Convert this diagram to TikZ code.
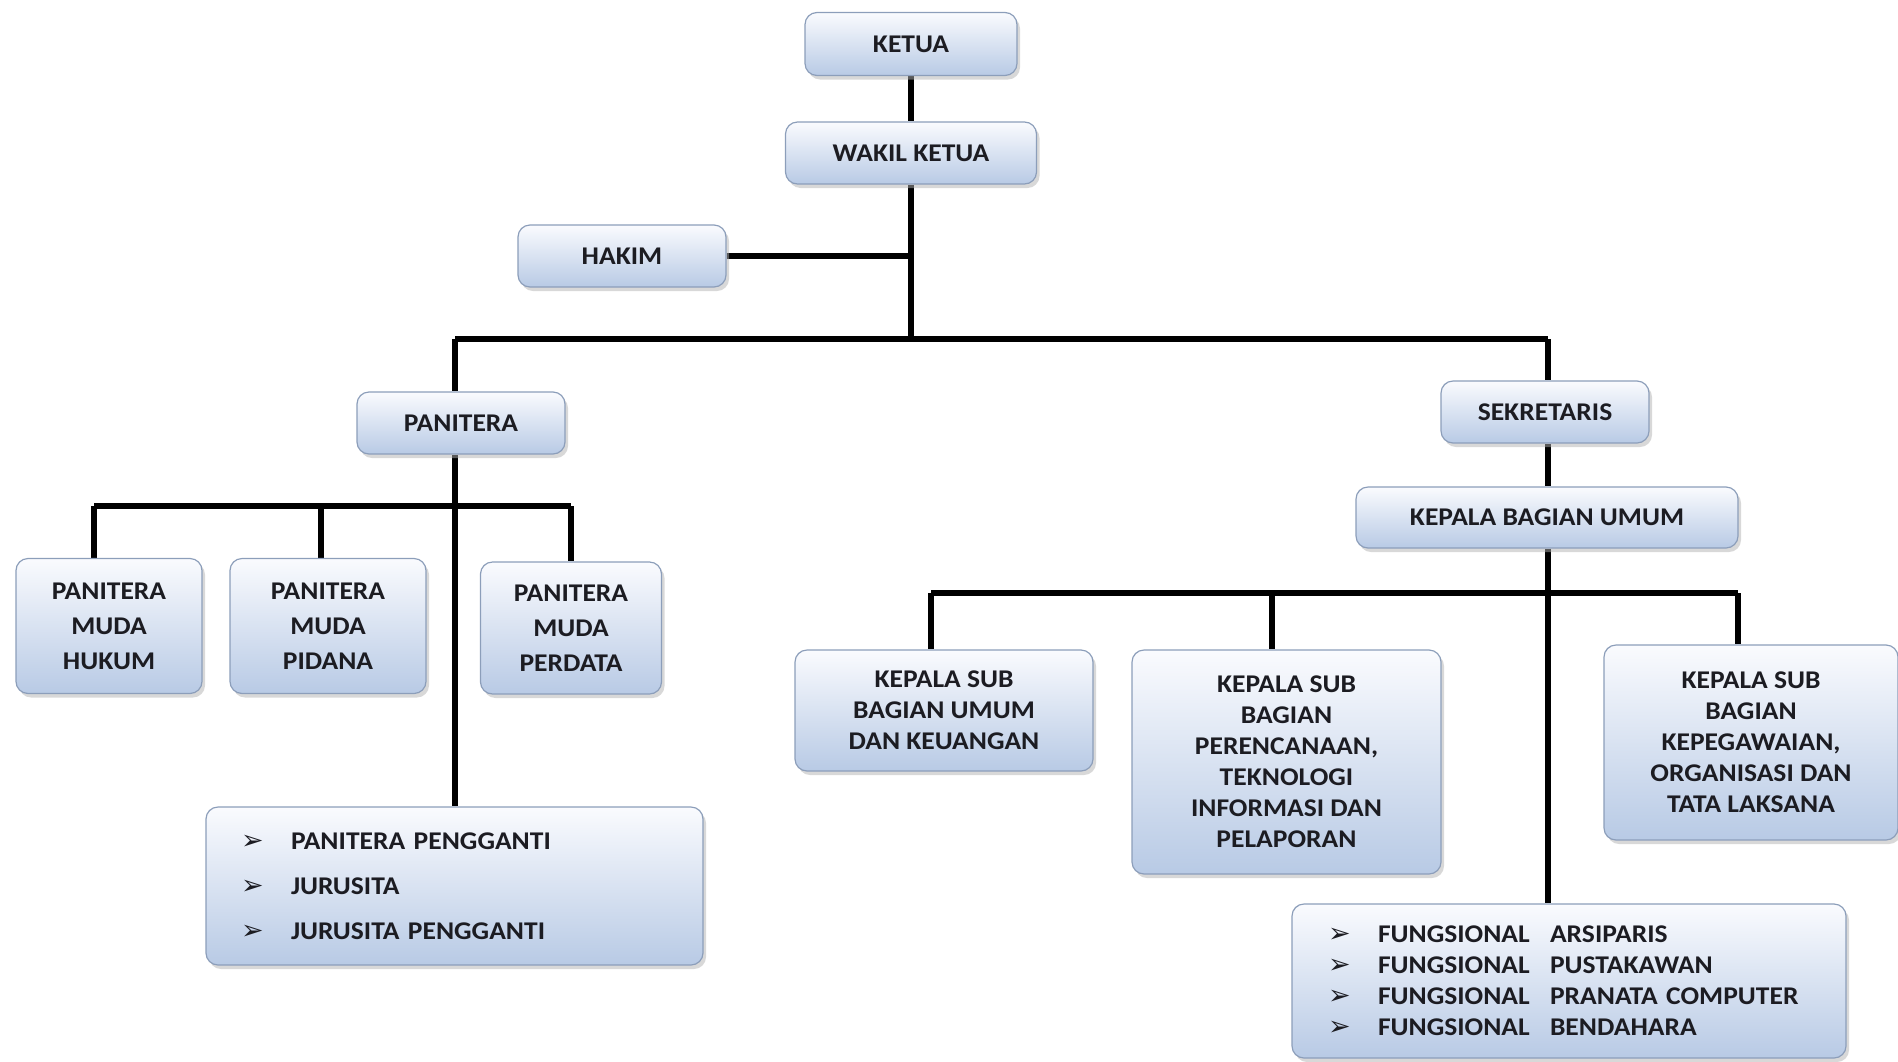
\documentclass[tikz,border=0pt]{standalone}
\usepackage{fontspec}
\setmainfont{Carlito}[FakeStretch=1.08]
\newfontfamily\symfont{DejaVu Sans}
\usetikzlibrary{shadows,backgrounds}
\definecolor{boxtop}{RGB}{250,251,254}
\definecolor{boxbot}{RGB}{184,202,229}
\definecolor{boxline}{RGB}{140,158,186}
\definecolor{inktext}{RGB}{28,28,34}
\tikzset{
  unit/.style={draw=boxline, line width=1.2pt, rounded corners=12pt,
    top color=boxtop, bottom color=boxbot,
    drop shadow={shadow xshift=3pt, shadow yshift=-4pt, fill=black!30},
    font=\bfseries\fontsize{25.5}{31}\selectfont, text=inktext,
    align=center, inner sep=0pt},
  listunit/.style={unit, align=left, text width=#1},
  link/.style={line width=6pt, black},
}
\newcommand{\bul}{\makebox[40pt][l]{\hspace{-10pt}\symfont\fontsize{27}{27}\selectfont ➢}}
\newcommand{\fung}{\makebox[172pt][l]{FUNGSIONAL}}
\begin{document}
\begin{tikzpicture}[x=1pt,y=-1pt]
	\useasboundingbox (0,0) rectangle (1898,1061);
	% pimpinan
	\node (ketua) [unit,minimum width=212,minimum height=63] at (911,44) {KETUA};
	\node (wakil) [unit,minimum width=251,minimum height=62] at (911,153) {WAKIL KETUA};
	\node (hakim) [unit,minimum width=208,minimum height=62] at (622,256) {HAKIM};
	% kepaniteraan
	\node (panitera) [unit,minimum width=208,minimum height=62] at (461,423) {PANITERA};
	\node (pmhukum) [unit,minimum width=186,minimum height=135,font=\bfseries\fontsize{25.5}{35}\selectfont] at (109,626) {PANITERA\\MUDA\\HUKUM};
	\node (pmpidana) [unit,minimum width=196,minimum height=135,font=\bfseries\fontsize{25.5}{35}\selectfont] at (328,626) {PANITERA\\MUDA\\PIDANA};
	\node (pmperdata) [unit,minimum width=181,minimum height=132,font=\bfseries\fontsize{25.5}{35}\selectfont] at (571,628) {PANITERA\\MUDA\\PERDATA};
	\node (pengganti) [listunit=407,minimum height=158,inner xsep=45,font=\bfseries\fontsize{25.5}{45}\selectfont] at (454.5,886)
		{\bul PANITERA PENGGANTI\\\bul JURUSITA\\\bul JURUSITA PENGGANTI};
	% kesekretariatan
	\node (sekretaris) [unit,minimum width=208,minimum height=62] at (1545,412) {SEKRETARIS};
	\node (kabagumum) [unit,minimum width=382,minimum height=61] at (1547,517.5) {KEPALA BAGIAN UMUM};
	\node (ksbkeu) [unit,minimum width=298,minimum height=121] at (944,710.5) {KEPALA SUB\\BAGIAN UMUM\\DAN KEUANGAN};
	\node (ksbren) [unit,minimum width=309,minimum height=224] at (1286.5,762) {KEPALA SUB\\BAGIAN\\PERENCANAAN,\\TEKNOLOGI\\INFORMASI DAN\\PELAPORAN};
	\node (ksbpeg) [unit,minimum width=294,minimum height=195] at (1751,742.5) {KEPALA SUB\\BAGIAN\\KEPEGAWAIAN,\\ORGANISASI DAN\\TATA LAKSANA};
	\node (fungsional) [listunit=462,minimum height=154,inner xsep=46] at (1569,981)
		{\bul\fung ARSIPARIS\\\bul\fung PUSTAKAWAN\\\bul\fung PRANATA COMPUTER\\\bul\fung BENDAHARA};
	% garis
	\coordinate (top) at (911,339);
	\coordinate (pleft) at (455,339);
	\coordinate (sright) at (1548,339);
	\coordinate (pbarl) at (94,506);
	\coordinate (pbarm) at (321,506);
	\coordinate (pbarr) at (571,506);
	\coordinate (sbarl) at (931,593);
	\coordinate (sbarm) at (1272,593);
	\coordinate (sbarr) at (1738,593);
	\begin{scope}[on background layer]
		\draw [link] (ketua.south) -- (wakil.north);
		\draw [link] (wakil.south) -- (top);
		\draw [link] (hakim.east) -- (hakim.east -| top);
		\draw [link] (pleft) -- (sright);
		\draw [link] (pleft) -- (pleft |- panitera.north);
		\draw [link] (pleft |- panitera.south) -- (pleft |- pengganti.north);
		\draw [link] (pbarl) -- (pbarr);
		\draw [link] (pbarl) -- (pbarl |- pmhukum.north);
		\draw [link] (pbarm) -- (pbarm |- pmpidana.north);
		\draw [link] (pbarr) -- (pbarr |- pmperdata.north);
		\draw [link] (sright) -- (sright |- sekretaris.north);
		\draw [link] (sright |- sekretaris.south) -- (sright |- kabagumum.north);
		\draw [link] (sright |- kabagumum.south) -- (sright |- fungsional.north);
		\draw [link] (sbarl) -- (sbarr);
		\draw [link] (sbarl) -- (sbarl |- ksbkeu.north);
		\draw [link] (sbarm) -- (sbarm |- ksbren.north);
		\draw [link] (sbarr) -- (sbarr |- ksbpeg.north);
	\end{scope}
\end{tikzpicture}
\end{document}
